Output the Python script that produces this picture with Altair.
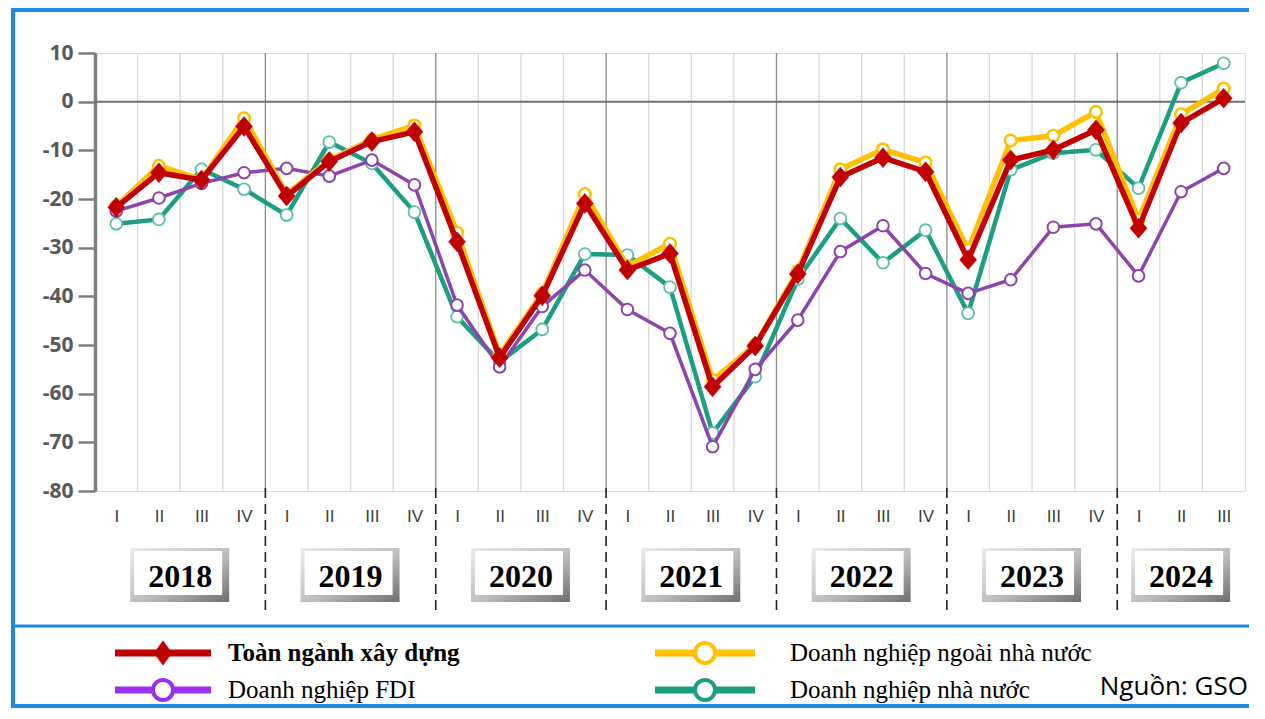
import altair as alt
import pandas as pd

# ---------------- data ----------------
years = ["2018"] * 4 + ["2019"] * 4 + ["2020"] * 4 + ["2021"] * 4 + ["2022"] * 4 + ["2023"] * 4 + ["2024"] * 3
quarters = ["I", "II", "III", "IV"] * 6 + ["I", "II", "III"]

series_names = [
    "Toàn ngành xây dựng",
    "Doanh nghiệp ngoài nhà nước",
    "Doanh nghiệp FDI",
    "Doanh nghiệp nhà nước",
]

toan_nganh = [-21.7, -14.6, -16.1, -5.1, -19.4, -12.3, -8.2, -6.2,
              -28.8, -52.6, -39.9, -20.9, -34.6, -31.2, -58.6, -50.2,
              -35.4, -15.5, -11.5, -14.4, -32.5, -12.0, -9.9, -5.8,
              -26.0, -4.4, 0.7]
ngoai_nha_nuoc = [-21.5, -13.2, -16.0, -3.4, -19.0, -12.0, -7.8, -4.9,
                  -26.9, -52.0, -39.4, -19.0, -33.8, -29.2, -57.2, -50.0,
                  -34.8, -13.9, -9.8, -12.5, -30.5, -8.0, -7.0, -2.1,
                  -24.3, -2.6, 2.7]
fdi = [-22.5, -19.8, -16.8, -14.6, -13.7, -15.3, -12.0, -17.1,
       -41.8, -54.5, -42.1, -34.6, -42.7, -47.6, -70.9, -55.0,
       -44.9, -30.8, -25.5, -35.3, -39.4, -36.6, -25.8, -25.1,
       -35.8, -18.5, -13.7]
nha_nuoc = [-25.1, -24.2, -13.9, -18.0, -23.3, -8.3, -12.7, -22.7,
            -44.2, -53.5, -46.8, -31.3, -31.5, -38.1, -68.1, -56.5,
            -36.5, -24.0, -33.1, -26.4, -43.5, -14.0, -10.6, -9.9,
            -17.8, 3.9, 7.9]

y_ticks = [-80, -70, -60, -50, -40, -30, -20, -10, 0, 10]
source_note = "Nguồn: GSO"

# ---------------- tables ----------------
n = len(quarters)
idx = list(range(n))
values_by_series = [toan_nganh, ngoai_nha_nuoc, fdi, nha_nuoc]

rows = []
for name, vals in zip(series_names, values_by_series):
    for i, (yy, q, v) in enumerate(zip(years, quarters, vals)):
        rows.append({"idx": i, "year": yy, "quarter": q, "series": name, "value": v})
df = pd.DataFrame(rows)

year_list = list(dict.fromkeys(years))
year_df = pd.DataFrame({
    "year": year_list,
    "idx": [sum(i for i in idx if years[i] == y) / years.count(y) for y in year_list],
})
bnd_df = pd.DataFrame({
    "idx": [i + 0.5 for i in range(n - 1)],
    "major": [years[i] != years[i + 1] for i in range(n - 1)],
})
legend_df = pd.DataFrame({"series": series_names})
one = pd.DataFrame({"note": [source_note]})

label_expr = "[" + ",".join(f"'{q}'" for q in quarters) + "][datum.value]"

W, H = 1150, 438


def xenc(field="idx"):
    return alt.X(
        f"{field}:Q",
        scale=alt.Scale(domain=[-0.5, n - 0.5], nice=False, zero=False),
        axis=alt.Axis(values=idx, labelExpr=label_expr, grid=False, domain=False,
                      ticks=False, labelPadding=17, labelFontSize=17,
                      labelFont="Liberation Sans", labelColor="#404040",
                      title=None, labelAngle=0),
    )


yenc = alt.Y(
    "value:Q",
    scale=alt.Scale(domain=[-80, 10], nice=False, zero=False),
    axis=alt.Axis(values=y_ticks, title=None, labelFont="Noto Sans", labelFontWeight="bold",
                  labelExpr="'' + datum.value",
                  labelFontSize=21, labelColor="#595959", labelPadding=5,
                  tickSize=17, tickColor="#7f7f7f", tickWidth=2.5,
                  domainColor="#7f7f7f", domainWidth=3.5,
                  gridColor="#d9d9d9", gridWidth=1.3),
)

layers = []

# vertical grid at quarter boundaries
layers.append(
    alt.Chart(bnd_df).transform_filter("!datum.major").mark_rule(color="#d9d9d9", strokeWidth=1.3)
    .encode(x=xenc())
)
layers.append(
    alt.Chart(bnd_df).transform_filter("datum.major").mark_rule(color="#8a8a8a", strokeWidth=1.3)
    .encode(x=xenc())
)
# dashed year separators below plot
layers.append(
    alt.Chart(bnd_df).transform_filter("datum.major")
    .mark_rule(color="#222222", strokeWidth=1.6, strokeDash=[10, 6])
    .encode(x=xenc(), y=alt.value(H - 3), y2=alt.value(H + 121))
)
# zero line
layers.append(
    alt.Chart(one).mark_rule(color="#707070", strokeWidth=2).encode(y=alt.datum(0))
)

styles = {
    "Toàn ngành xây dựng": dict(color="#C00000", lw=5.5, shape="M0,-1L0.85,0L0,1L-0.85,0Z",
                                size=400, fill="#C00000", pstroke="#C00000", pw=0.5,
                                lcolor="#C00000", lshape="M0,-1L0.72,0L0,1L-0.72,0Z", lsize=600, lpw=0.5,
                                lfill="#C00000"),
    "Doanh nghiệp ngoài nhà nước": dict(color="#FFC000", lw=5.5, shape="circle", size=135, fill="white",
                                        pstroke="#FFC000", pw=2.5, lcolor="#FFC000", lshape="circle",
                                        lsize=400, lpw=4, lfill="white"),
    "Doanh nghiệp FDI": dict(color="#8E44AD", lw=3.5, shape="circle", size=135, fill="white",
                             pstroke="#8E44AD", pw=2, lcolor="#9B2FF0", lshape="circle",
                             lsize=400, lpw=4, lfill="white"),
    "Doanh nghiệp nhà nước": dict(color="#1B9E82", lw=4.5, shape="circle", size=140, fill="white",
                                  pstroke="#5CBFA8", pw=1.8, lcolor="#1A9E80", lshape="circle",
                                  lsize=400, lpw=4, lfill="white"),
}

draw_order = [3, 2, 1, 0]
for k in draw_order:
    name = series_names[k]
    st = styles[name]
    base = alt.Chart(df).transform_filter(alt.datum.series == name)
    layers.append(base.mark_line(color=st["color"], strokeWidth=st["lw"], strokeJoin="miter")
                  .encode(x=xenc(), y=yenc))
    layers.append(base.mark_point(shape=st["shape"], size=st["size"], filled=True, fill=st["fill"],
                                  stroke=st["pstroke"], strokeWidth=st["pw"], opacity=1)
                  .encode(x=xenc(), y=yenc))

# year boxes
grad = alt.Gradient(gradient="linear",
                    stops=[alt.GradientStop(color="#ececec", offset=0),
                           alt.GradientStop(color="#bdbdbd", offset=0.55),
                           alt.GradientStop(color="#6e6e6e", offset=1)],
                    x1=0, y1=0, x2=1, y2=1)
layers.append(
    alt.Chart(year_df).mark_rect(fill=grad, xOffset=-50, x2Offset=49)
    .encode(x=xenc(), x2="idx:Q", y=alt.value(H + 57), y2=alt.value(H + 111))
)
layers.append(
    alt.Chart(year_df).mark_rect(fill="white", xOffset=-46, x2Offset=42)
    .encode(x=xenc(), x2="idx:Q", y=alt.value(H + 60), y2=alt.value(H + 104))
)
layers.append(
    alt.Chart(year_df).mark_text(font="Liberation Serif", fontWeight="bold", fontSize=32,
                                 color="black", baseline="alphabetic", align="center")
    .encode(x=xenc(), y=alt.value(H + 96), text="year:N")
)

# frame and divider
layers.append(
    alt.Chart(one).mark_rect(fill="transparent", stroke="#1E88E5", strokeWidth=4)
    .encode(x=alt.value(-82), x2=alt.value(W + 60), y=alt.value(-43), y2=alt.value(653))
)
layers.append(
    alt.Chart(one).mark_rule(color="#1E88E5", strokeWidth=3)
    .encode(x=alt.value(-82), x2=alt.value(W + 60), y=alt.value(573))
)

# custom legend
line_x0 = [20, 560]
line_x1 = [116, 660]
text_x = [133, 695]
row_y = [600, 637]
for k, name in enumerate(series_names):
    st = styles[name]
    col, row = k % 2, k // 2
    ldata = alt.Chart(legend_df).transform_filter(alt.datum.series == name)
    layers.append(ldata.mark_rule(color=st["lcolor"], strokeWidth=7)
                  .encode(x=alt.value(line_x0[col]), x2=alt.value(line_x1[col]), y=alt.value(row_y[row])))
    layers.append(ldata.mark_point(shape=st["lshape"], size=st["lsize"], filled=True, fill=st["lfill"],
                                   stroke=st["lcolor"], strokeWidth=st["lpw"], opacity=1)
                  .encode(x=alt.value((line_x0[col] + line_x1[col]) / 2), y=alt.value(row_y[row])))
    layers.append(ldata.mark_text(font="Liberation Serif", fontSize=25, color="black",
                                  fontWeight="bold" if k == 0 else "normal",
                                  align="left", baseline="middle")
                  .encode(x=alt.value(text_x[col]), y=alt.value(row_y[row]), text="series:N"))

layers.append(
    alt.Chart(one).mark_text(font="Open Sans", fontSize=26, color="black", align="right",
                             baseline="middle")
    .encode(x=alt.value(W + 3), y=alt.value(634), text="note:N")
)

chart = alt.layer(*layers).properties(
    width=W, height=H,
    padding={"left": 87, "top": 45, "right": 4, "bottom": 217},
    autosize=alt.AutoSizeParams(type="none"),
).configure_view(stroke="#e3e3e3", strokeWidth=1.5).configure(background="white")

chart.save("out.html", embed_options={"renderer": "svg", "actions": False})
